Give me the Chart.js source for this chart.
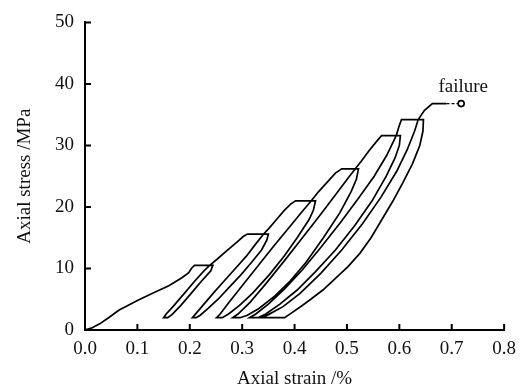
<!DOCTYPE html>
<html>
<head>
<meta charset="utf-8">
<script src="https://cdn.jsdelivr.net/npm/chart.js@4.4.0/dist/chart.umd.min.js"></script>
<style>
  body { margin: 0; background: #fff; }
  canvas { display: block; }
</style>
</head>
<body>
<canvas id="stressChart" width="524" height="390"></canvas>
<script>
// tick values
const xTicks = [0, 0.1, 0.2, 0.3, 0.4, 0.5, 0.6, 0.7, 0.8];
const yTicks = [0, 10, 20, 30, 40, 50];

// [axial strain %, axial stress MPa]
const loading = [[0,0],[0.012,0.3],[0.028,1.0],[0.045,2.0],[0.058,2.8],[0.066,3.3],[0.08,3.9],[0.1,4.8],[0.13,6.0],[0.16,7.2],[0.185,8.5],[0.198,9.3],[0.203,10.0],[0.209,10.5]];
// each cycle: end of hold, unloading, hold at 2 MPa, reloading to next hold
const cycle1 = [[0.244,10.5],[0.24,9.6],[0.223,8.0],[0.203,6.0],[0.183,4.0],[0.166,2.5],[0.158,2.0],[0.15,2.0],[0.155,2.6],[0.17,4.0],[0.19,6.0],[0.21,8.0],[0.228,9.7],[0.238,10.5],[0.252,11.5],[0.272,13.0],[0.29,14.3],[0.302,15.2],[0.31,15.6]];
const cycle2 = [[0.35,15.6],[0.347,14.6],[0.337,13.0],[0.318,11.0],[0.298,9.0],[0.276,7.0],[0.254,5.0],[0.235,3.5],[0.22,2.4],[0.212,2.0],[0.205,2.0],[0.21,2.5],[0.225,4.0],[0.245,6.0],[0.266,8.0],[0.287,10.0],[0.308,12.0],[0.326,14.0],[0.341,15.6],[0.352,16.6],[0.366,18.0],[0.38,19.4],[0.393,20.5],[0.402,21.0]];
const cycle3 = [[0.44,21.0],[0.436,19.5],[0.428,18.0],[0.405,15.0],[0.38,12.0],[0.352,9.0],[0.32,6.0],[0.295,4.0],[0.274,2.6],[0.262,2.0],[0.251,2.0],[0.258,2.6],[0.275,4.5],[0.3,7.2],[0.33,10.4],[0.36,13.6],[0.39,16.7],[0.415,19.3],[0.432,21.0],[0.446,22.5],[0.462,24.0],[0.478,25.5],[0.49,26.2]];
const cycle4 = [[0.522,26.2],[0.518,24.5],[0.508,22.5],[0.486,19.0],[0.455,15.0],[0.422,11.0],[0.392,8.0],[0.362,5.5],[0.332,3.5],[0.31,2.4],[0.296,2.0],[0.282,2.0],[0.292,2.6],[0.315,4.5],[0.345,7.5],[0.38,11.2],[0.415,15.0],[0.45,18.8],[0.48,22.2],[0.503,24.8],[0.516,26.2],[0.528,27.5],[0.541,29.0],[0.555,30.5],[0.566,31.6]];
const cycle5 = [[0.602,31.6],[0.6,30.0],[0.592,28.0],[0.575,25.0],[0.548,21.0],[0.515,17.0],[0.478,13.0],[0.44,9.5],[0.405,6.5],[0.372,4.2],[0.345,2.6],[0.33,2.0],[0.314,2.0],[0.326,2.6],[0.35,4.2],[0.38,6.6],[0.415,9.8],[0.45,13.4],[0.488,17.5],[0.522,21.4],[0.552,25.0],[0.576,28.4],[0.594,31.6],[0.599,33.0],[0.604,34.2]];
const cycle6 = [[0.646,34.2],[0.645,32.3],[0.639,30.0],[0.625,27.0],[0.607,24.0],[0.588,21.0],[0.567,18.0],[0.546,15.0],[0.525,12.5],[0.502,10.3],[0.477,8.3],[0.454,6.5],[0.431,5.0],[0.41,3.7],[0.393,2.7],[0.381,2.0],[0.337,2.0],[0.35,2.5],[0.378,3.8],[0.41,5.9],[0.45,9.2],[0.49,13.0],[0.53,17.3],[0.565,21.6],[0.595,25.8],[0.615,29.3],[0.629,32.3],[0.636,34.2],[0.648,35.7],[0.663,36.8],[0.69,36.8]];
const failure = [[0.69,36.8],[0.718,36.8]];
const failureText = 'failure';
const failureTextAt = [0.722, 38.7];

const toXY = arr => arr.map(([x, y]) => ({ x: x, y: y }));
const path = toXY([].concat(loading, cycle1, cycle2, cycle3, cycle4, cycle5, cycle6));

const serif = '"Liberation Serif", "Times New Roman", serif';

// ticks pointing into the plot
const innerTicks = {
    id: 'innerTicks',
    afterDraw(chart) {
        const c = chart.ctx, a = chart.chartArea;
        const sx = chart.scales.x, sy = chart.scales.y;
        c.save();
        c.strokeStyle = '#000';
        c.lineWidth = 2;
        c.beginPath();
        xTicks.forEach(v => {
            const px = sx.getPixelForValue(v);
            c.moveTo(px, a.bottom);
            c.lineTo(px, a.bottom - 6);
        });
        yTicks.forEach(v => {
            const py = sy.getPixelForValue(v);
            c.moveTo(a.left, py);
            c.lineTo(a.left + 6, py);
        });
        c.stroke();
        // label
        c.fillStyle = '#111';
        c.font = '19px ' + serif;
        c.textAlign = 'center';
        c.textBaseline = 'alphabetic';
        c.fillText(failureText, sx.getPixelForValue(failureTextAt[0]), sy.getPixelForValue(failureTextAt[1]));
        c.restore();
    }
};

const ctx = document.getElementById('stressChart');

new Chart(ctx, {
    type: 'scatter',
    data: {
        datasets: [{
            data: path,
            showLine: true,
            borderColor: '#000',
            borderWidth: 1.7,
            pointRadius: 0,
            tension: 0
        }, {
            data: toXY(failure),
            showLine: true,
            borderColor: '#000',
            borderWidth: 1.3,
            borderDash: [3, 2],
            pointRadius: [0, 3],
            pointBackgroundColor: '#fff',
            pointBorderColor: '#000',
            pointBorderWidth: 1.7
        }]
    },
    options: {
        responsive: false,
        animation: false,
        layout: { padding: { top: 20, right: 19, bottom: 0, left: 0 } },
        plugins: {
            legend: { display: false },
            tooltip: { enabled: false }
        },
        scales: {
            x: {
                type: 'linear',
                min: 0,
                max: 0.8,
                afterBuildTicks: s => { s.ticks = xTicks.map(v => ({ value: v })); },
                afterFit: s => { s.height = 60; },
                grid: { display: false, drawTicks: false },
                border: { display: true, color: '#000', width: 2 },
                ticks: {
                    color: '#111',
                    padding: 8,
                    font: { family: serif, size: 19 },
                    callback: v => v.toFixed(1)
                },
                title: {
                    display: true,
                    text: 'Axial strain /%',
                    color: '#111',
                    font: { family: serif, size: 19 },
                    padding: { top: 0, bottom: 0 }
                }
            },
            y: {
                type: 'linear',
                min: 0,
                max: 50,
                afterBuildTicks: s => { s.ticks = yTicks.map(v => ({ value: v })); },
                afterFit: s => { s.width = 85; },
                grid: { display: false, drawTicks: false },
                border: { display: true, color: '#000', width: 2 },
                ticks: {
                    color: '#111',
                    padding: 11,
                    font: { family: serif, size: 19 }
                },
                title: {
                    display: true,
                    text: 'Axial stress /MPa',
                    color: '#111',
                    font: { family: serif, size: 19 },
                    padding: { top: 14, bottom: 0 }
                }
            }
        }
    },
    plugins: [innerTicks]
});
</script>
</body>
</html>
